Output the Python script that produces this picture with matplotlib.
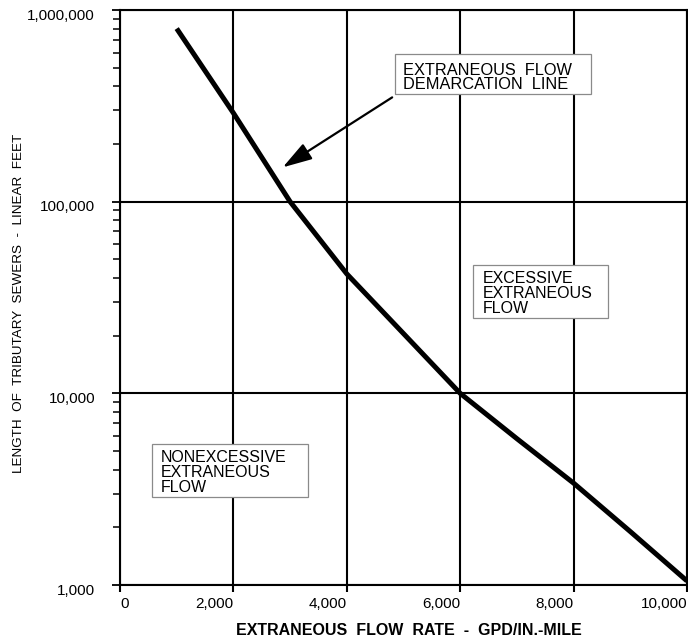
import numpy as np
import matplotlib
matplotlib.use("Agg")
import matplotlib.pyplot as plt
from matplotlib.patches import Rectangle, FancyArrowPatch
from matplotlib.transforms import ScaledTranslation
from matplotlib.ticker import FixedLocator, FixedFormatter, LogLocator, NullFormatter

# ========== data ==========
flow_rate = [1000, 2000, 3000, 4000, 5000, 6000, 7000, 8000, 9000, 10000]
sewer_length = [800000, 290000, 100000, 42000, 20500, 10000, 5800, 3400, 1900, 1050]

x_ticks = [0, 2000, 4000, 6000, 8000, 10000]
x_tick_labels = ["0", "2,000", "4,000", "6,000", "8,000", "10,000"]
y_ticks = [1000, 10000, 100000, 1000000]
y_tick_labels = ["1,000", "10,000", "100,000", "1,000,000"]

# arrow: tail near label box, head on the line
arrow_tail = (4800, 350000)
arrow_head = (2870, 151000)

plt.rcParams.update({
    "font.family": ["Liberation Sans", "DejaVu Sans"],
    "axes.linewidth": 1.5,
})

fig = plt.figure(figsize=(6.88, 6.39), dpi=100)
ax = fig.add_axes([120 / 688, 54 / 639, 567 / 688, 575 / 639])

ax.plot(flow_rate, sewer_length, color="black", lw=3.6, solid_capstyle="butt", zorder=3)

ax.set_yscale("log")
ax.set_xlim(0, 10000)
ax.set_ylim(1000, 1000000)

ax.xaxis.set_major_locator(FixedLocator(x_ticks))
ax.xaxis.set_major_formatter(FixedFormatter(x_tick_labels))
ax.yaxis.set_major_locator(FixedLocator(y_ticks))
ax.yaxis.set_major_formatter(FixedFormatter(y_tick_labels))
ax.yaxis.set_minor_locator(LogLocator(base=10, subs=np.arange(2, 10)))
ax.yaxis.set_minor_formatter(NullFormatter())

ax.grid(True, which="major", color="black", lw=1.5)
ax.set_axisbelow(True)

ax.tick_params(axis="x", which="major", direction="out", length=5, width=1.5,
               labelsize=11, pad=4)
ax.tick_params(axis="y", which="major", direction="out", length=6, width=1.3,
               labelsize=11, pad=12)
ax.tick_params(axis="y", which="minor", direction="out", length=5, width=1.1)
ax.tick_params(top=False, right=False)

for spine in ax.spines.values():
    spine.set_color("black")

# x labels sit to the left of their tick, except the zero
for lab in ax.get_xticklabels():
    lab.set_ha("right")
ax.get_xticklabels()[0].set_ha("left")

# y labels sit a touch below their gridline in the original
drop = ScaledTranslation(0, -3 / 72, fig.dpi_scale_trans)
for lab in ax.get_yticklabels():
    lab.set_transform(lab.get_transform() + drop)

ax.set_xlabel("EXTRANEOUS  FLOW  RATE  -  GPD/IN.-MILE", fontsize=11.5,
              fontweight="bold")
ax.xaxis.set_label_coords(0.509, -0.066)
ax.set_ylabel("LENGTH  OF  TRIBUTARY  SEWERS  -  LINEAR  FEET", fontsize=9.7)
ax.yaxis.set_label_coords(-0.168, 0.49)

# ========== labelled boxes ==========
boxes = [
    # (x0, y0, x1, y1) in axes fraction, text x, text top, text, size, spacing
    ((0.485, 0.854, 0.831, 0.923), 0.499, 0.907, "EXTRANEOUS  FLOW\nDEMARCATION  LINE", 11.8, 0.9),
    ((0.623, 0.464, 0.861, 0.557), 0.640, 0.546, "EXCESSIVE\nEXTRANEOUS\nFLOW", 11.5, 0.98),
    ((0.056, 0.153, 0.332, 0.245), 0.072, 0.234, "NONEXCESSIVE\nEXTRANEOUS\nFLOW", 11.5, 0.98),
]
for (x0, y0, x1, y1), tx, ty, txt, fs, ls in boxes:
    ax.add_patch(Rectangle((x0, y0), x1 - x0, y1 - y0, transform=ax.transAxes,
                           facecolor="white", edgecolor="#8a8a8a", lw=0.9, zorder=4))
    ax.text(tx, ty, txt, transform=ax.transAxes, ha="left", va="top",
            fontsize=fs, linespacing=ls, zorder=5)

arrow = FancyArrowPatch(arrow_tail, arrow_head,
                        arrowstyle="-|>,head_length=18,head_width=5.5",
                        mutation_scale=1, color="black", lw=1.6,
                        shrinkA=0, shrinkB=0, zorder=5)
ax.add_patch(arrow)

fig.savefig("out.png", dpi=100)
